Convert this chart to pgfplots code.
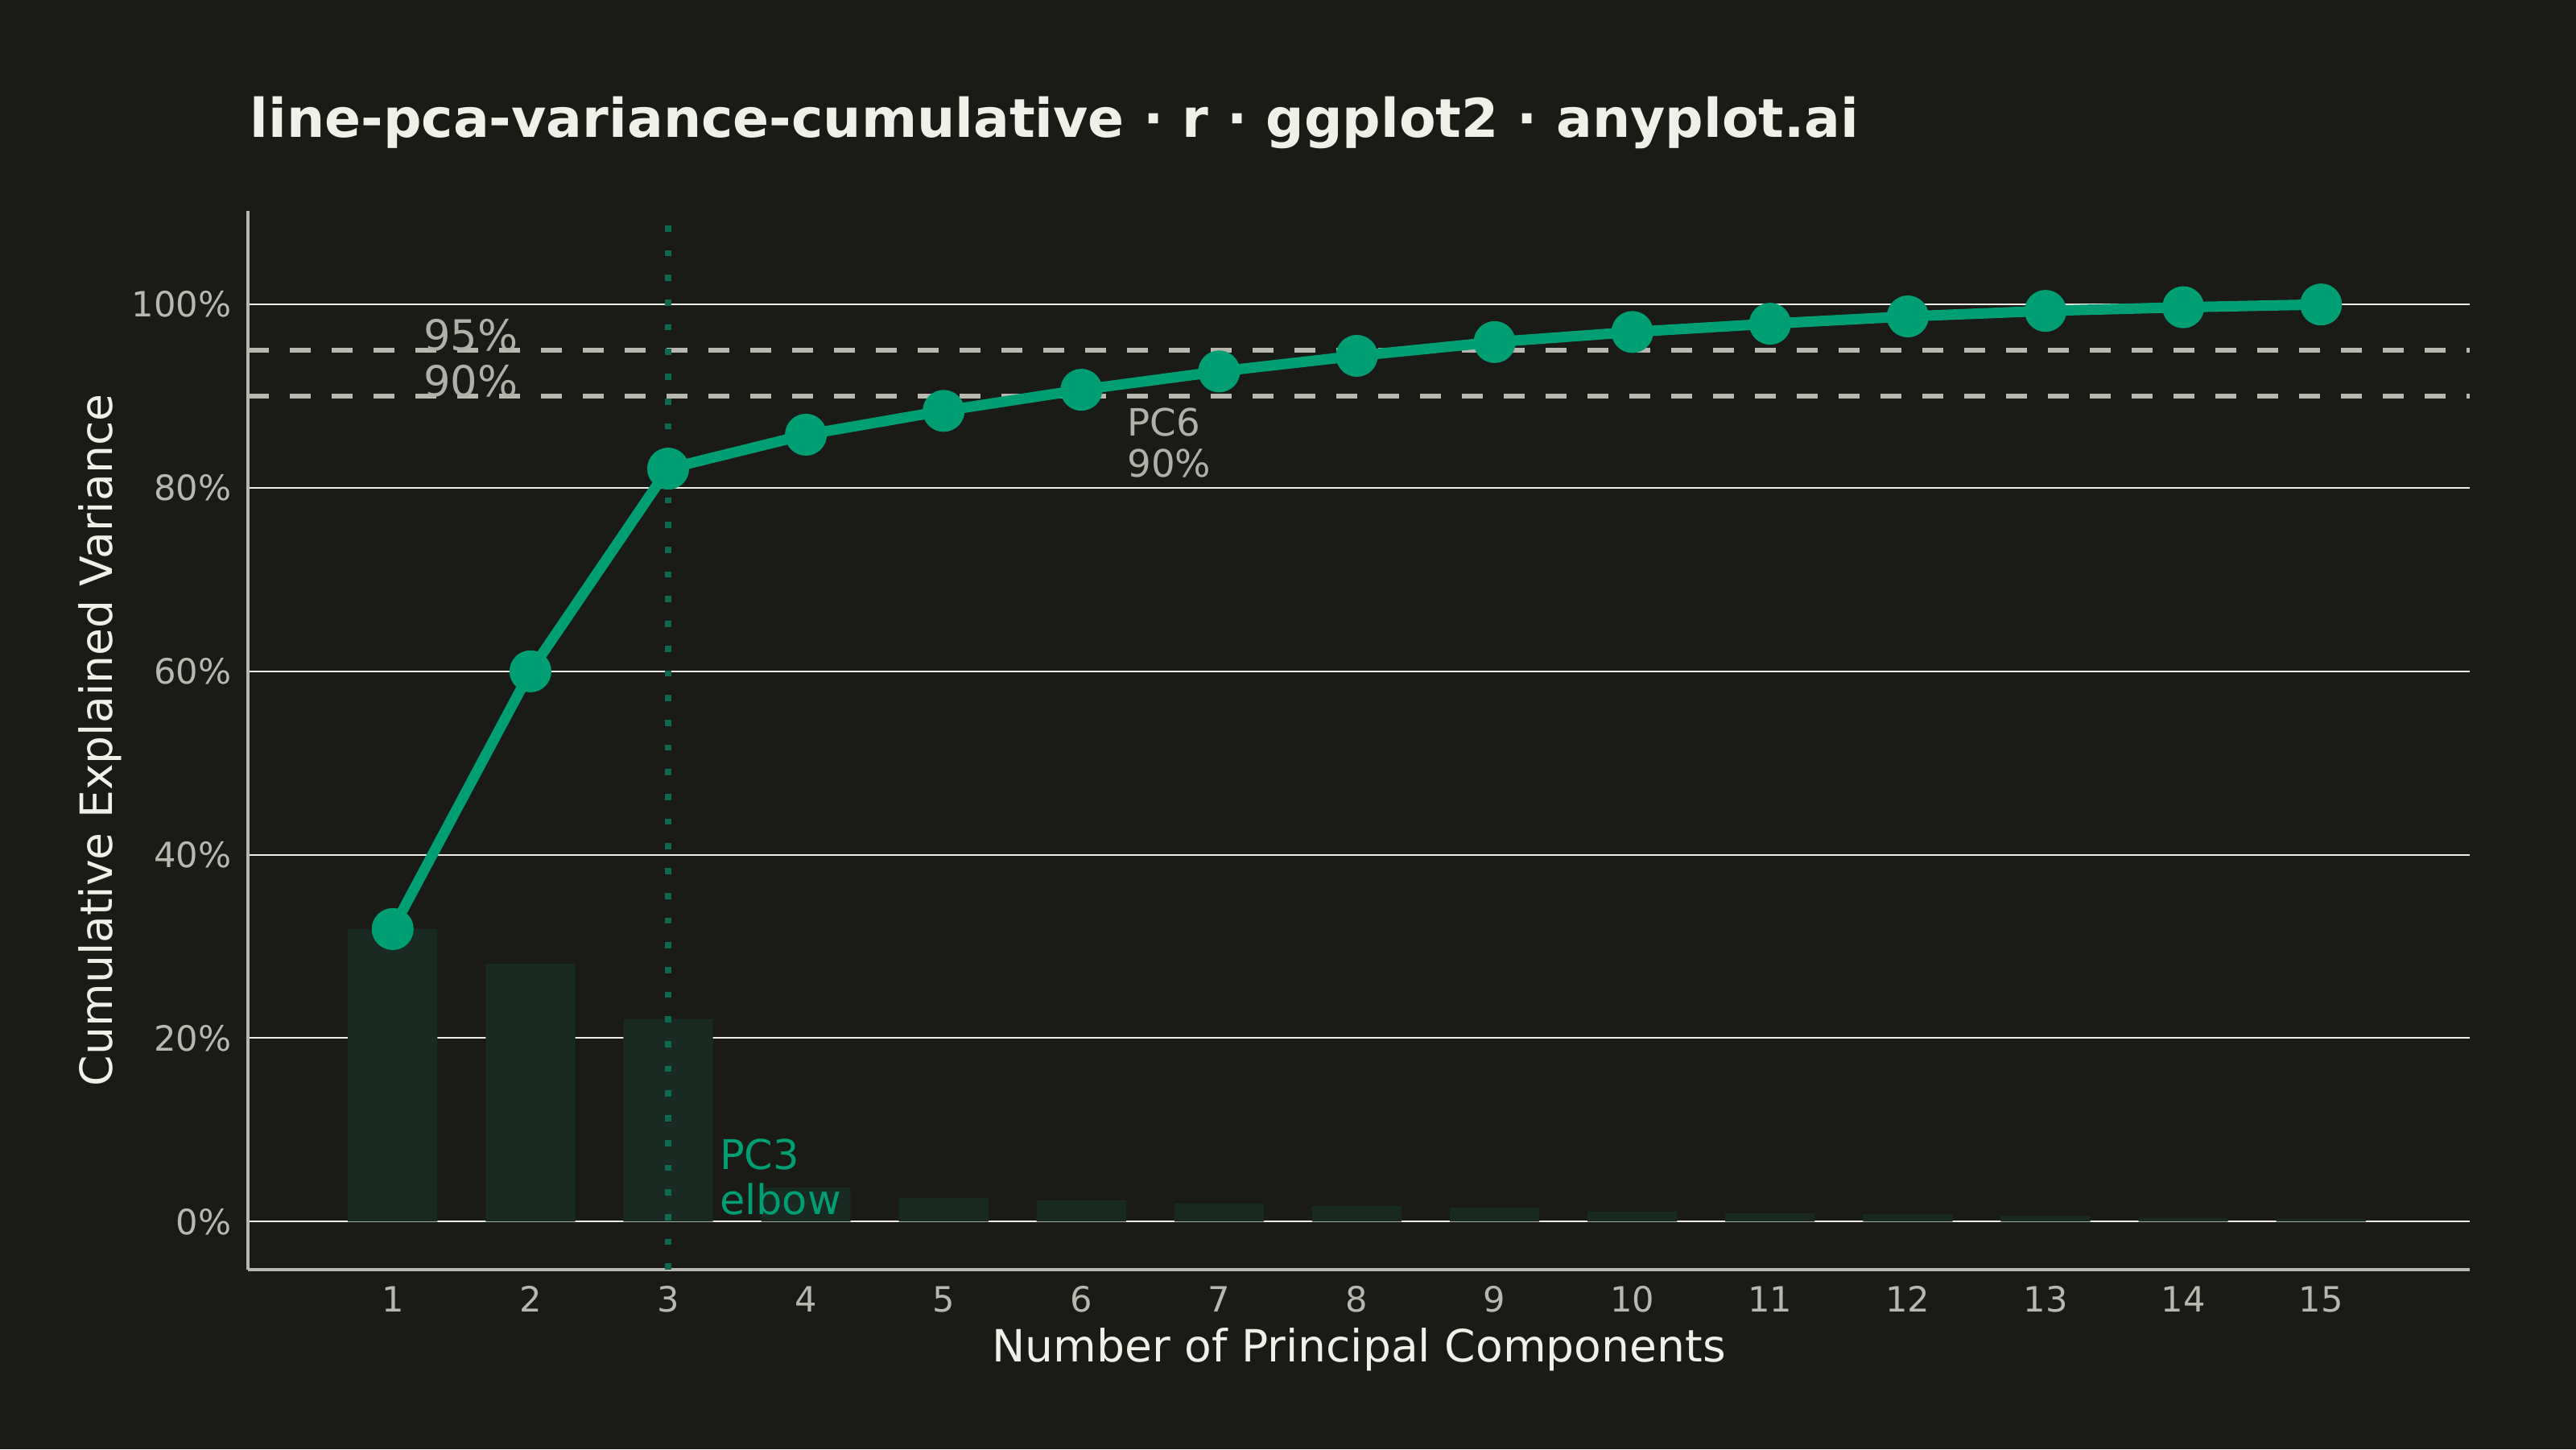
\documentclass[border=0pt]{standalone}
\usepackage{fontspec}
\setmainfont{DejaVu Sans}
\usepackage{pgfplots}
\pgfplotsset{compat=1.18}
\definecolor{bgc}{HTML}{1A1A17}
\definecolor{grn}{HTML}{009E73}
\definecolor{grnd}{HTML}{0B6A4F}
\definecolor{barc}{HTML}{182A22}
\definecolor{gridc}{HTML}{EEEDE6}
\definecolor{axc}{HTML}{B8B8B0}
\definecolor{txt}{HTML}{F0EFE8}
\definecolor{annc}{HTML}{B0B0A9}
\begin{document}
\begin{tikzpicture}
\fill[bgc] (0,0) rectangle (32,18);
\begin{axis}[
  scale only axis, width=27.60cm, height=13.15cm,
  at={(3.08cm,2.23cm)}, anchor=south west,
  xmin=-0.051, xmax=16.08, ymin=-5.24, ymax=110.2,
  axis x line=bottom, axis y line=left,
  axis line style={axc, line width=1.2pt, -},
  xtick={1,2,3,4,5,6,7,8,9,10,11,12,13,14,15},
  xticklabels={1,2,3,4,5,6,7,8,9,10,11,12,13,14,15},
  ytick={0,20,40,60,80,100},
  yticklabels={0\%,20\%,40\%,60\%,80\%,100\%},
  /pgf/number format/assume math mode=true,
  major tick length=0pt,
  tick style={draw=none},
  ymajorgrids, grid style={gridc, line width=0.57pt},
  ticklabel style={font=\fontsize{12.3}{14}\selectfont, text=axc},
  yticklabel style={inner sep=0pt, xshift=-0.2cm},
  xticklabel style={inner sep=0pt, yshift=-0.2cm},
  xlabel={Number of Principal Components},
  ylabel={Cumulative Explained Variance},
  label style={font=\fontsize{15.7}{18}\selectfont, text=txt},
  xlabel style={at={(axis description cs:0.5,0)}, anchor=base, yshift=-1.14cm},
  ylabel style={at={(axis description cs:-0.0667,0.5)}, anchor=center},
  clip=false,
]
% individual explained variance (bars)
\addplot[ybar, bar width=0.65, fill=barc, draw=none] coordinates {
 (1,31.9) (2,28.1) (3,22.1) (4,3.7) (5,2.6) (6,2.3) (7,2.0) (8,1.7)
 (9,1.5) (10,1.1) (11,0.9) (12,0.8) (13,0.6) (14,0.4) (15,0.3)};
% threshold lines
\addplot[axc, line width=1.7pt, dash pattern=on 0.26cm off 0.26cm] coordinates {(-0.051,95) (16.08,95)};
\addplot[axc, line width=1.7pt, dash pattern=on 0.26cm off 0.26cm] coordinates {(-0.051,90) (16.08,90)};
% elbow line
\addplot[grnd, line width=2.2pt, dash pattern=on 0.077cm off 0.23cm] coordinates {(3,-5.24) (3,110.2)};
% cumulative
\addplot[grn, line width=3.7pt, mark=*, mark size=5.55pt, mark options={fill=grn, draw=none}] coordinates {
 (1,31.9) (2,60.0) (3,82.1) (4,85.8) (5,88.4) (6,90.7) (7,92.7) (8,94.4)
 (9,95.9) (10,97.0) (11,97.9) (12,98.7) (13,99.3) (14,99.7) (15,100.0)};
\node[anchor=base west, inner sep=0pt, text=annc, font=\fontsize{15}{18}\selectfont] at (axis cs:1.22,95) {95\%};
\node[anchor=base west, inner sep=0pt, text=annc, font=\fontsize{15}{18}\selectfont] at (axis cs:1.22,90) {90\%};
\node[anchor=base west, inner sep=0pt, text=annc, font=\fontsize{13.3}{16}\selectfont] at (axis cs:6.33,85.7) {PC6};
\node[anchor=base west, inner sep=0pt, text=annc, font=\fontsize{13.3}{16}\selectfont] at (axis cs:6.33,81.2) {90\%};
\node[anchor=base west, inner sep=0pt, text=grn, font=\fontsize{14.5}{16}\selectfont] at (axis cs:3.37,5.73) {PC3};
\node[anchor=base west, inner sep=0pt, text=grn, font=\fontsize{14.5}{16}\selectfont] at (axis cs:3.37,0.8) {elbow};
\end{axis}
\node[anchor=base west, inner sep=0pt, text=txt, font=\bfseries\fontsize{18.9}{22}\selectfont] at (3.10,16.29) {line-pca-variance-cumulative · r · ggplot2 · anyplot.ai};
\pgfresetboundingbox
\path[use as bounding box] (0,0) rectangle (32,18);
\end{tikzpicture}
\end{document}
